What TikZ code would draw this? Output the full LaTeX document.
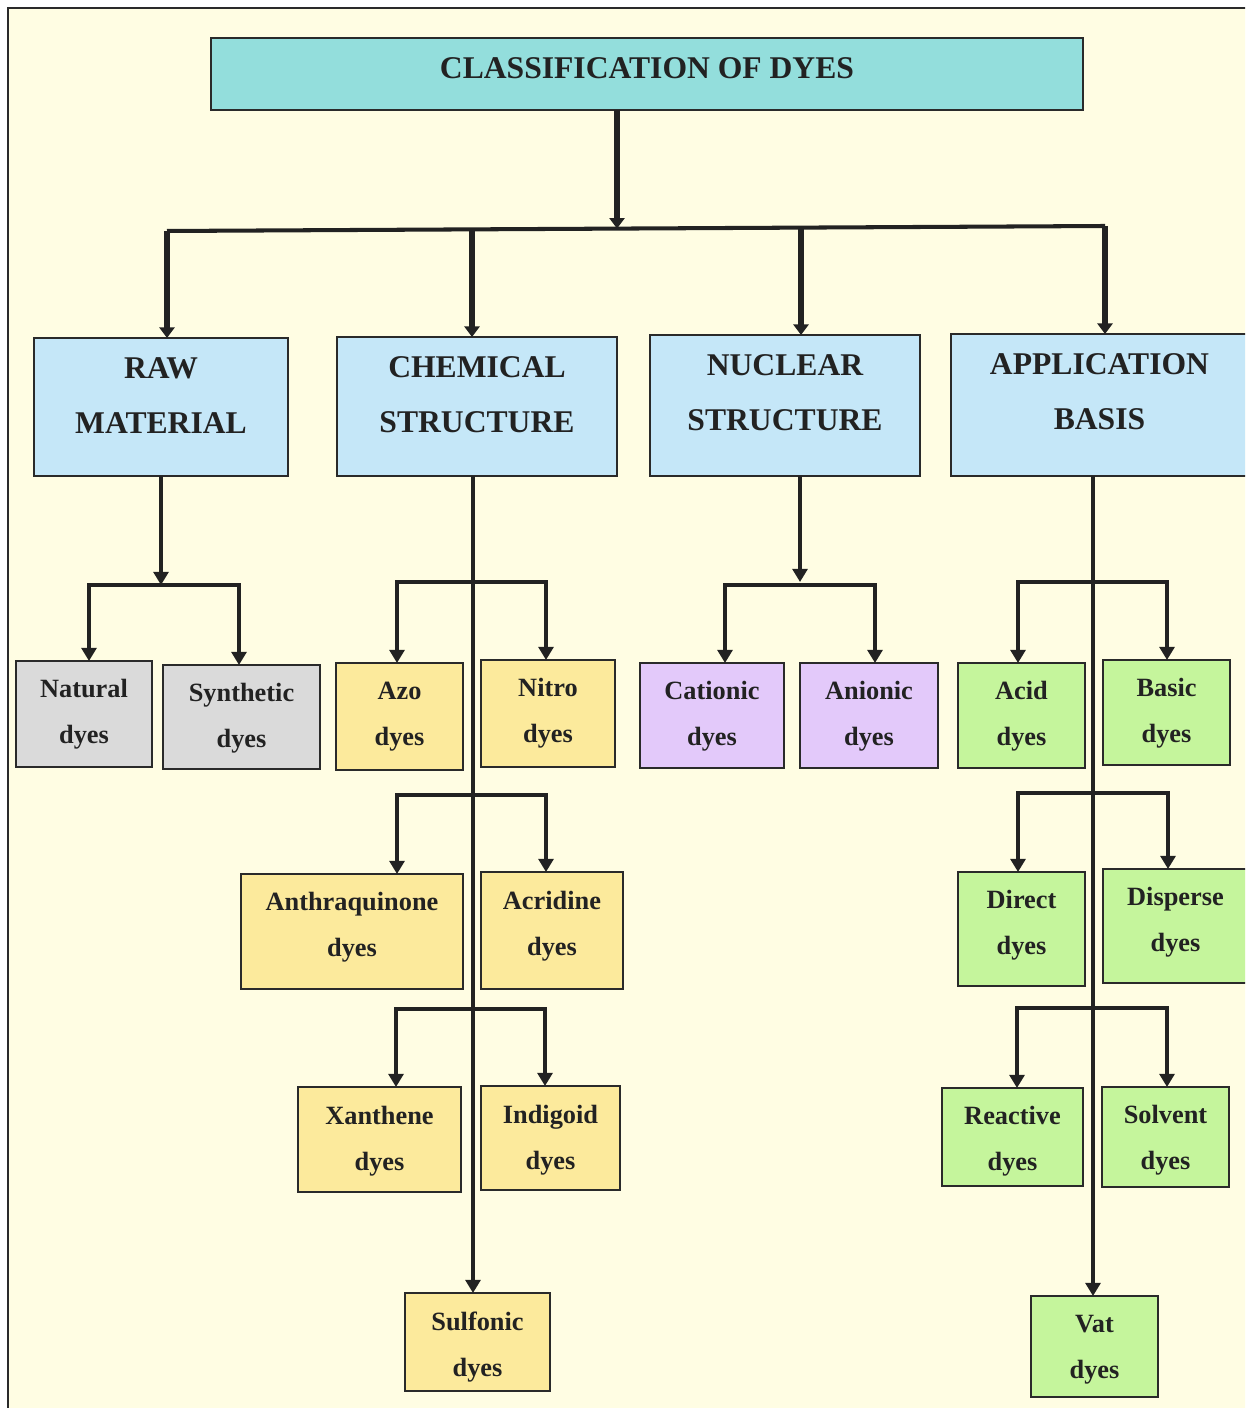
\documentclass[tikz,border=0pt]{standalone}
\usepackage{fontspec}
\setmainfont{Liberation Serif}
\usetikzlibrary{arrows.meta}

\definecolor{bgcream}{HTML}{FFFDE3}
\definecolor{ink}{HTML}{222222}
\definecolor{boxline}{HTML}{2A2A2A}
\definecolor{titleteal}{HTML}{93DEDC}
\definecolor{groupblue}{HTML}{C5E7F8}
\definecolor{greybox}{HTML}{DADADA}
\definecolor{yellowbox}{HTML}{FCEA9C}
\definecolor{purplebox}{HTML}{E3C9FA}
\definecolor{greenbox}{HTML}{C5F59C}

\tikzset{
  box/.style={rectangle, draw=boxline, line width=1.6pt, inner sep=0pt, outer sep=0pt},
  titlebox/.style={box, fill=titleteal},
  groupbox/.style={box, fill=groupblue},
  greyleaf/.style={box, fill=greybox},
  yellowleaf/.style={box, fill=yellowbox},
  purpleleaf/.style={box, fill=purplebox},
  greenleaf/.style={box, fill=greenbox},
  headtext/.style={font=\bfseries\fontsize{18}{20}\selectfont, text=ink, inner sep=0pt, anchor=base},
  leaftext/.style={font=\bfseries\fontsize{15}{17}\selectfont, text=ink, inner sep=0pt, anchor=base},
  mainbar/.style={draw=ink, line width=2.3pt},
  bigarrow/.style={draw=ink, line width=3.4pt, -{Triangle[length=6pt,width=8.5pt]}},
  arrow/.style={draw=ink, line width=2.2pt, -{Triangle[length=7.5pt,width=8.5pt]}},
  bracket/.style={draw=ink, line width=1.9pt,
    {Triangle[length=7.5pt,width=8.5pt]}-{Triangle[length=7.5pt,width=8.5pt]}},
  trunk/.style={draw=ink, line width=2pt, -{Triangle[length=7.5pt,width=8.5pt]}},
}

% leaf box: name, style, left, top, right, bottom, line 1, line 2, baseline of line 1
\newcommand\leafbox[9]{%
  \node[#2, minimum width={(#5-#3)*0.02cm}, minimum height={(#6-#4)*0.02cm},
        anchor=north west] (#1) at (#3,#4) {};
  \node[leaftext] (#1-a) at ({(#3+#5)/2},#9) {#7};
  \node[leaftext] (#1-b) at ({(#3+#5)/2},{#9+46}) {#8};
}
% group box: same arguments, larger type
\newcommand\groupbox[9]{%
  \node[#2, minimum width={(#5-#3)*0.02cm}, minimum height={(#6-#4)*0.02cm},
        anchor=north west] (#1) at (#3,#4) {};
  \node[headtext] (#1-a) at ({(#3+#5)/2},#9) {#7};
  \node[headtext] (#1-b) at ({(#3+#5)/2},{#9+55.5}) {#8};
}

\begin{document}
\begin{tikzpicture}[x=0.02cm, y=-0.02cm]
\useasboundingbox (0,0) rectangle (1245,1408);
\clip (0,0) rectangle (1245,1408);

% page frame
\fill[bgcream] (8,8) rectangle (1270,1430);
\draw[boxline, line width=1.1pt] (8,1430) -- (8,8) -- (1270,8);

% title
\node[titlebox, minimum width={872*0.02cm}, minimum height={72*0.02cm}, anchor=north west]
  (title) at (211,38) {};
\node[headtext] (title-t) at (647,78.5) {CLASSIFICATION OF DYES};

% main groups
\groupbox{raw}{groupbox}{34}{338}{288}{476}{RAW}{MATERIAL}{378.5}
\groupbox{chem}{groupbox}{337}{337}{617}{476}{CHEMICAL}{STRUCTURE}{377.5}
\groupbox{nuc}{groupbox}{650}{335}{920}{476}{NUCLEAR}{STRUCTURE}{375.5}
\groupbox{app}{groupbox}{951}{334}{1248}{476}{APPLICATION}{BASIS}{374.5}

% raw material
\leafbox{natural}{greyleaf}{16}{661}{152}{767}{Natural}{dyes}{697}
\leafbox{synthetic}{greyleaf}{163}{665}{320}{769}{Synthetic}{dyes}{701}

% chemical structure
\leafbox{azo}{yellowleaf}{336}{663}{463}{770}{Azo}{dyes}{699}
\leafbox{nitro}{yellowleaf}{481}{660}{615}{767}{Nitro}{dyes}{696}
\leafbox{anthra}{yellowleaf}{241}{874}{463}{989}{Anthraquinone}{dyes}{910}
\leafbox{acridine}{yellowleaf}{481}{872}{623}{989}{Acridine}{dyes}{909}
\leafbox{xanthene}{yellowleaf}{298}{1087}{461}{1192}{Xanthene}{dyes}{1124}
\leafbox{indigoid}{yellowleaf}{481}{1086}{620}{1190}{Indigoid}{dyes}{1123}
\leafbox{sulfonic}{yellowleaf}{405}{1293}{550}{1391}{Sulfonic}{dyes}{1330}

% nuclear structure
\leafbox{cationic}{purpleleaf}{640}{663}{784}{768}{Cationic}{dyes}{699}
\leafbox{anionic}{purpleleaf}{800}{663}{938}{768}{Anionic}{dyes}{699}

% application basis
\leafbox{acid}{greenleaf}{958}{663}{1085}{768}{Acid}{dyes}{699}
\leafbox{basic}{greenleaf}{1103}{660}{1230}{765}{Basic}{dyes}{696}
\leafbox{direct}{greenleaf}{958}{872}{1085}{986}{Direct}{dyes}{908}
\leafbox{disperse}{greenleaf}{1103}{869}{1248}{983}{Disperse}{dyes}{905}
\leafbox{reactive}{greenleaf}{942}{1088}{1083}{1186}{Reactive}{dyes}{1124}
\leafbox{solvent}{greenleaf}{1102}{1087}{1229}{1187}{Solvent}{dyes}{1123}
\leafbox{vat}{greenleaf}{1031}{1296}{1158}{1397}{Vat}{dyes}{1332}

% title to groups
\coordinate (barL) at (167,231);
\coordinate (barB) at (472,229.4);
\coordinate (barT) at (617,228.6);
\coordinate (barC) at (801,227.6);
\coordinate (barR) at (1105,226);
\draw[bigarrow] (title.south -| barT) -- (barT);
\draw[mainbar] (barL) -- (barR);
\draw[bigarrow] (barL) -- (raw.north -| barL);
\draw[bigarrow] (barB) -- (chem.north -| barB);
\draw[bigarrow] (barC) -- (nuc.north -| barC);
\draw[bigarrow] (barR) -- (app.north -| barR);

% raw material branch
\coordinate (rawL) at (89,585);
\coordinate (rawR) at (239,585);
\draw[arrow] (raw.south) -- (raw.south |- rawL);
\draw[bracket] (natural.north -| rawL) -- (rawL) -- (rawR) -- (synthetic.north -| rawR);

% chemical structure branch
\coordinate (chemX) at (473,0);
\draw[trunk] (chem.south -| chemX) -- (sulfonic.north -| chemX);
\coordinate (c1L) at (397,582);  \coordinate (c1R) at (546,582);
\coordinate (c2L) at (397,795);  \coordinate (c2R) at (546,795);
\coordinate (c3L) at (396,1009); \coordinate (c3R) at (545,1009);
\draw[bracket] (azo.north -| c1L) -- (c1L) -- (c1R) -- (nitro.north -| c1R);
\draw[bracket] (anthra.north -| c2L) -- (c2L) -- (c2R) -- (acridine.north -| c2R);
\draw[bracket] (xanthene.north -| c3L) -- (c3L) -- (c3R) -- (indigoid.north -| c3R);

% nuclear structure branch
\coordinate (nucJ) at (800,582);
\coordinate (nL) at (725,585); \coordinate (nR) at (875,585);
\draw[arrow] (nuc.south -| nucJ) -- (nucJ);
\draw[bracket] (cationic.north -| nL) -- (nL) -- (nR) -- (anionic.north -| nR);

% application basis branch
\coordinate (appX) at (1093,0);
\draw[trunk] (app.south -| appX) -- (vat.north -| appX);
\coordinate (a1L) at (1018,582);  \coordinate (a1R) at (1167,582);
\coordinate (a2L) at (1018,793);  \coordinate (a2R) at (1168,793);
\coordinate (a3L) at (1017,1008); \coordinate (a3R) at (1167,1008);
\draw[bracket] (acid.north -| a1L) -- (a1L) -- (a1R) -- (basic.north -| a1R);
\draw[bracket] (direct.north -| a2L) -- (a2L) -- (a2R) -- (disperse.north -| a2R);
\draw[bracket] (reactive.north -| a3L) -- (a3L) -- (a3R) -- (solvent.north -| a3R);
\end{tikzpicture}
\end{document}
